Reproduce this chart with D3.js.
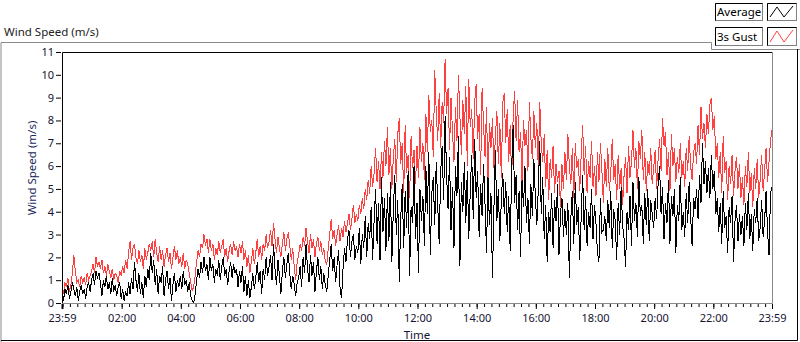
<!DOCTYPE html>
<html>
<head>
<meta charset="utf-8">
<script src="https://cdn.jsdelivr.net/npm/d3@7"></script>
<style>
  body { margin: 0; background: #fff; }
  svg { display: block; font-family: "Noto Sans", "Open Sans", sans-serif; }
</style>
</head>
<body>
<svg width="800" height="342"></svg>
<script>
// one reading every 3 minutes, from 23:59 to 23:59 next day (20 per hour)
const stepMinutes = 3;
const gust = [
  0.6,0.4,0.9,0.7,1.1,0.5,0.8,1.3,2.1,1.4,0.9,1.0,0.7,1.2,0.9,1.1,0.8,1.3,1.0,1.2,
  1.4,1.7,1.3,2.0,1.6,1.8,1.5,1.9,1.3,1.6,1.2,1.7,1.4,1.1,1.5,1.0,1.3,1.2,0.9,1.4,
  1.2,1.6,1.3,1.9,1.5,2.2,2.7,1.9,2.4,2.6,2.0,1.7,2.3,1.8,2.1,1.5,2.4,1.9,2.2,2.6,
  2.3,2.7,2.0,2.8,2.2,1.8,2.5,1.9,2.3,1.6,2.1,2.4,1.8,2.2,1.5,2.0,2.5,1.9,2.3,1.7,
  2.0,1.6,2.2,1.5,1.9,1.7,1.3,0.9,0.55,0.7,1.2,1.8,2.3,2.0,2.6,2.4,3.0,2.5,2.8,2.2,
  2.8,2.3,2.6,1.9,2.4,2.1,2.7,2.2,2.5,2.8,2.0,2.4,1.8,2.3,2.6,2.1,2.7,2.3,2.5,2.0,
  2.6,2.2,2.7,1.9,2.3,1.6,2.1,1.3,1.8,2.4,1.7,2.2,2.8,2.0,2.5,1.9,2.6,2.3,3.0,2.4,
  2.7,3.2,2.5,3.5,2.8,2.2,2.9,2.4,2.0,2.6,3.1,2.3,2.8,3.1,2.5,1.9,2.4,1.6,1.0,1.8,
  2.1,2.6,2.3,2.9,2.5,3.3,2.7,2.2,3.0,2.4,2.8,2.0,2.6,2.9,2.3,2.7,2.1,2.4,1.8,1.7,
  2.4,3.0,3.7,2.8,3.2,2.5,3.0,3.4,2.7,3.3,2.9,3.6,3.1,3.5,3.9,3.2,3.7,4.3,3.5,3.9,
  3.6,4.3,3.9,4.6,4.1,5.0,4.5,5.4,4.8,6.0,5.1,5.7,6.8,5.3,6.2,5.0,6.6,5.5,7.1,6.0,
  7.7,5.6,6.8,5.0,6.4,7.2,5.3,7.4,8.1,6.1,7.0,4.8,7.8,5.7,6.5,4.6,7.3,5.9,6.7,5.2,
  6.9,5.5,7.7,6.2,7.0,5.4,8.3,6.6,9.1,7.5,8.0,6.4,10.2,8.4,7.1,9.2,6.8,8.8,7.9,10.7,
  8.3,9.4,6.7,9.0,7.5,6.2,8.6,7.1,10.0,8.2,6.5,8.9,7.4,9.5,6.0,9.8,7.7,8.5,6.3,8.8,
  9.6,7.2,8.3,5.6,9.4,7.8,6.4,8.6,5.2,7.9,6.8,8.1,5.9,7.3,8.4,6.1,7.9,5.5,8.8,9.2,
  7.0,8.5,6.2,7.8,5.4,8.2,9.3,7.1,8.9,6.6,7.5,5.3,8.0,6.9,7.6,5.8,8.8,7.2,6.3,8.4,
  6.8,7.9,5.9,8.8,7.0,6.2,7.4,5.1,6.7,4.5,6.3,5.5,6.9,4.8,6.1,5.3,5.8,4.2,6.1,5.0,
  6.6,5.4,7.4,6.0,5.2,6.8,4.6,7.0,5.9,6.3,4.9,6.5,7.8,5.6,6.9,4.8,6.2,5.5,7.1,5.1,
  6.0,4.7,6.6,5.3,7.0,5.8,4.4,6.3,5.1,6.8,4.9,5.7,7.2,5.4,6.1,4.5,6.5,5.0,5.9,4.3,
  5.6,6.4,4.8,6.9,5.5,6.2,7.6,5.9,6.8,5.0,7.1,6.3,7.6,5.4,6.6,4.9,6.2,5.6,6.8,5.2,
  5.9,6.7,5.0,6.3,7.2,5.8,8.1,6.9,7.5,5.6,6.6,4.9,7.4,6.0,6.8,5.3,6.4,5.7,7.0,5.5,
  6.2,5.1,6.8,5.8,7.3,6.0,5.4,6.6,7.0,6.1,7.8,6.5,8.6,7.2,7.9,6.8,8.3,7.4,8.7,9.0,
  7.6,8.2,6.3,7.0,5.5,6.6,4.8,7.3,5.7,6.2,4.5,6.0,5.2,6.5,4.7,5.8,6.4,5.0,6.1,4.6,
  5.5,4.3,6.0,5.1,6.6,4.8,5.7,4.2,5.9,5.0,6.3,4.6,5.4,6.5,4.9,5.8,6.8,5.3,6.2,7.1,
  7.6
];
const average = [
  0.3,0.1,0.6,0.4,0.8,0.2,0.5,0.9,0.6,0.3,0.7,0.1,0.5,0.8,0.4,0.6,0.2,0.7,0.9,0.5,
  1.0,1.3,0.8,1.4,1.1,1.3,0.9,0.3,1.0,0.7,1.2,0.6,0.9,0.4,1.1,0.5,0.8,0.3,0.7,0.9,
  0.2,0.6,0.1,0.5,0.3,0.9,0.4,1.1,0.6,1.8,1.0,0.5,1.3,0.4,0.9,0.2,1.2,0.7,1.5,1.0,
  2.2,1.3,1.9,0.8,1.5,0.4,1.2,0.9,1.6,0.3,1.0,1.4,0.6,1.1,0.1,0.8,1.3,0.5,1.0,0.7,
  1.2,0.6,1.4,0.8,1.0,0.5,0.9,0.3,0.1,0.0,0.4,1.0,1.5,1.1,1.8,1.3,2.0,1.4,1.7,1.0,
  2.0,1.4,1.7,0.9,1.5,1.2,1.9,1.0,1.6,2.0,1.2,1.5,0.8,1.4,1.8,1.1,1.7,1.3,1.5,0.7,
  1.4,0.9,1.6,0.5,1.2,0.3,1.0,0.2,0.7,1.3,0.6,1.1,1.8,0.9,1.4,0.4,1.5,1.0,2.0,1.2,
  1.6,2.1,1.0,2.6,1.5,0.8,1.9,1.2,0.4,1.4,2.0,1.1,1.7,2.2,1.3,0.6,1.2,0.8,0.3,0.9,
  1.1,1.6,0.7,2.0,1.3,2.6,1.5,0.9,2.1,1.2,1.8,0.5,1.4,2.0,1.0,1.6,0.6,1.3,0.8,0.5,
  1.2,1.9,2.6,1.4,2.0,0.9,1.7,2.3,0.6,0.2,1.5,2.4,1.8,2.8,3.2,2.0,2.7,3.0,1.9,2.5,
  2.2,3.3,1.7,3.0,2.4,3.8,2.0,3.5,2.8,4.2,1.9,3.6,5.0,2.6,4.4,1.9,5.5,3.1,4.6,2.3,
  4.8,2.7,5.3,1.8,4.1,5.6,3.0,4.5,0.9,3.7,5.2,2.4,4.9,3.3,5.8,1.2,4.2,3.5,6.0,2.8,
  4.4,1.3,5.0,3.6,4.7,2.5,6.0,3.9,6.6,2.1,4.8,5.5,3.4,6.2,4.3,2.6,5.7,6.9,4.5,8.2,
  5.6,4.1,6.4,3.2,5.1,2.4,6.0,4.7,7.3,1.6,5.3,4.0,6.2,3.5,5.8,2.8,4.9,6.5,3.7,7.2,
  4.6,5.8,2.9,5.2,3.8,6.1,4.3,2.2,5.5,3.4,4.8,1.1,4.1,6.7,3.6,5.0,2.7,4.5,5.7,3.9,
  5.3,3.1,4.7,2.3,5.9,7.8,4.4,5.6,3.2,4.9,2.0,5.4,4.2,6.0,3.5,4.6,2.6,5.2,3.8,6.3,
  4.7,3.4,5.0,7.1,3.9,5.5,2.8,4.3,1.8,4.0,3.1,4.8,2.4,4.5,3.6,5.2,2.1,3.9,4.6,2.9,
  4.1,3.0,4.4,1.1,3.7,4.9,2.6,5.3,3.4,4.2,1.9,3.8,5.6,3.2,4.7,2.5,4.0,3.3,5.0,2.8,
  4.3,3.5,2.2,1.8,4.6,3.1,3.2,3.8,2.7,4.5,3.3,4.9,2.4,4.1,3.6,1.9,4.4,3.0,5.1,3.4,
  2.8,1.6,4.0,3.2,4.7,2.5,5.3,3.6,4.4,2.9,5.5,3.8,4.3,2.6,4.8,3.4,5.0,2.7,4.5,3.9,
  3.3,4.6,3.7,5.2,6.0,3.9,5.1,2.8,4.4,3.5,5.4,2.6,4.7,3.8,5.0,2.2,4.3,3.6,5.5,3.2,
  4.0,2.9,4.8,3.5,5.3,3.8,2.5,4.6,4.1,5.0,3.7,5.6,4.4,7.0,5.2,6.2,4.8,5.9,4.6,6.5,
  5.0,5.8,3.9,4.6,3.1,4.4,2.6,4.9,3.3,3.8,2.2,4.2,3.5,4.7,1.8,3.6,4.3,2.7,3.9,3.0,
  3.8,2.5,4.4,3.2,4.8,2.8,3.9,2.3,4.1,3.5,4.6,2.7,3.3,4.5,2.9,3.6,4.9,3.1,2.1,4.8,
  5.1
];
const yTicks = [0,1,2,3,4,5,6,7,8,9,10,11];
const xTickHours = [2,4,6,8,10,12,14,16,18,20,22];
const legendItems = [
  { name: 'Average', color: '#000000' },
  { name: '3s Gust', color: '#ff4040' }
];

const svg = d3.select('svg');
const plotLeft = 62, plotRight = 772, plotTop = 52, plotBottom = 303;
const tickFont = 11;
const labelFont = 11.5;

const start = new Date(2000, 0, 1, 23, 59);
const end = d3.timeMinute.offset(start, 24 * 60);
const timeAt = i => d3.timeMinute.offset(start, i * stepMinutes);

const x = d3.scaleTime().domain([start, end]).range([plotLeft, plotRight]);
const y = d3.scaleLinear().domain([0, 11]).range([plotBottom, plotTop]);

// outer control frame
svg.append('path')
    .attr('d', `M1,342V42.5H711.5V49.5H800`)
    .attr('fill', 'none').attr('stroke', '#8a8a8a');
svg.append('path')
    .attr('d', `M1,340.5H797.5V49`)
    .attr('fill', 'none').attr('stroke', '#000');

svg.append('text')
    .attr('x', 4).attr('y', 36)
    .attr('font-size', labelFont).attr('fill', '#222')
    .text('Wind Speed (m/s)');

// legend
const legend = svg.append('g');
legendItems.forEach((d, i) => {
  const top = i === 0 ? 3 : 27;
  const h = i === 0 ? 17 : 18;
  const row = legend.append('g').attr('transform', `translate(0, ${top})`);
  row.append('rect')
      .attr('x', 715.5).attr('y', 0.5).attr('width', 47).attr('height', h)
      .attr('fill', '#fff').attr('stroke', '#808080');
  row.append('path')
      .attr('d', `M715.5,${h + 0.5}V0.5H762.5`)
      .attr('fill', 'none').attr('stroke', '#000');
  row.append('text')
      .attr('x', 717).attr('y', h / 2 + 4.5)
      .attr('font-size', labelFont).attr('fill', '#000')
      .text(d.name);
  row.append('rect')
      .attr('x', 767.5).attr('y', 0.5).attr('width', 29).attr('height', h)
      .attr('fill', '#fff').attr('stroke', '#808080');
  row.append('path')
      .attr('d', `M767.5,${h + 0.5}V0.5H796.5`)
      .attr('fill', 'none').attr('stroke', '#000');
  row.append('path')
      .attr('d', `M770,${h - 3}L777,4L784,${h - 3}L793,3`)
      .attr('fill', 'none').attr('stroke', d.color).attr('stroke-width', 1);
});

// plot area
svg.append('rect')
    .attr('x', plotLeft).attr('y', plotTop)
    .attr('width', plotRight - plotLeft).attr('height', plotBottom - plotTop)
    .attr('fill', '#fff');

const line = d3.line()
    .x((d, i) => x(timeAt(i)))
    .y(d => y(d));

svg.append('clipPath').attr('id', 'plot-clip')
    .append('rect')
    .attr('x', plotLeft).attr('y', plotTop)
    .attr('width', plotRight - plotLeft).attr('height', plotBottom - plotTop);

const lines = svg.append('g').attr('clip-path', 'url(#plot-clip)');
lines.append('path')
    .datum(gust)
    .attr('d', line)
    .attr('fill', 'none').attr('stroke', '#ff4040').attr('stroke-width', 1)
    .attr('shape-rendering', 'crispEdges');
lines.append('path')
    .datum(average)
    .attr('d', line)
    .attr('fill', 'none').attr('stroke', '#000').attr('stroke-width', 1)
    .attr('shape-rendering', 'crispEdges');

// plot border: dark top/left, grey bottom/right
svg.append('path')
    .attr('d', `M${plotLeft + 0.5},${plotBottom}V${plotTop + 0.5}H${plotRight + 1}`)
    .attr('fill', 'none').attr('stroke', '#000');
svg.append('path')
    .attr('d', `M${plotLeft},${plotBottom + 0.5}H${plotRight + 0.5}V${plotTop}`)
    .attr('fill', 'none').attr('stroke', '#8a8a8a');

// y axis
const yAxis = svg.append('g')
    .attr('transform', `translate(${plotLeft}, 0)`)
    .call(d3.axisLeft(y).tickValues(yTicks).tickSize(5).tickPadding(3).tickFormat(d3.format('d')));
yAxis.select('.domain').remove();
yAxis.selectAll('text').attr('font-size', tickFont).attr('fill', '#141432')
    .attr('font-family', '"Noto Sans", sans-serif');
yAxis.selectAll('line').attr('stroke', '#000').attr('transform', 'translate(-1,0)');

// x axis
const majorTicks = [start, ...xTickHours.map(h => new Date(2000, 0, 2, h, 0)), end];
const minorTicks = d3.timeMinute.every(15).range(start, end);

const xMinor = svg.append('g')
    .attr('transform', `translate(0, ${plotBottom + 1})`)
    .call(d3.axisBottom(x).tickValues(minorTicks).tickSize(3).tickFormat(''));
xMinor.select('.domain').remove();
xMinor.selectAll('line').attr('stroke', '#000');

const xAxis = svg.append('g')
    .attr('transform', `translate(0, ${plotBottom + 1})`)
    .call(d3.axisBottom(x).tickValues(majorTicks).tickSize(5).tickPadding(5)
        .tickFormat(d3.timeFormat('%H:%M')));
xAxis.select('.domain').remove();
xAxis.selectAll('line').attr('stroke', '#000');
xAxis.selectAll('text').attr('font-size', tickFont).attr('fill', '#141432')
    .attr('font-family', '"Noto Sans", sans-serif');
xAxis.select('.tick line').attr('stroke-width', 2);

svg.append('text')
    .attr('x', (plotLeft + plotRight) / 2).attr('y', 339)
    .attr('text-anchor', 'middle')
    .attr('font-size', labelFont).attr('fill', '#141432')
    .text('Time');

svg.append('text')
    .attr('transform', `translate(36, 168) rotate(-90)`)
    .attr('text-anchor', 'middle')
    .attr('font-size', labelFont).attr('fill', '#1c2a5a')
    .text('Wind Speed (m/s)');
</script>
</body>
</html>
